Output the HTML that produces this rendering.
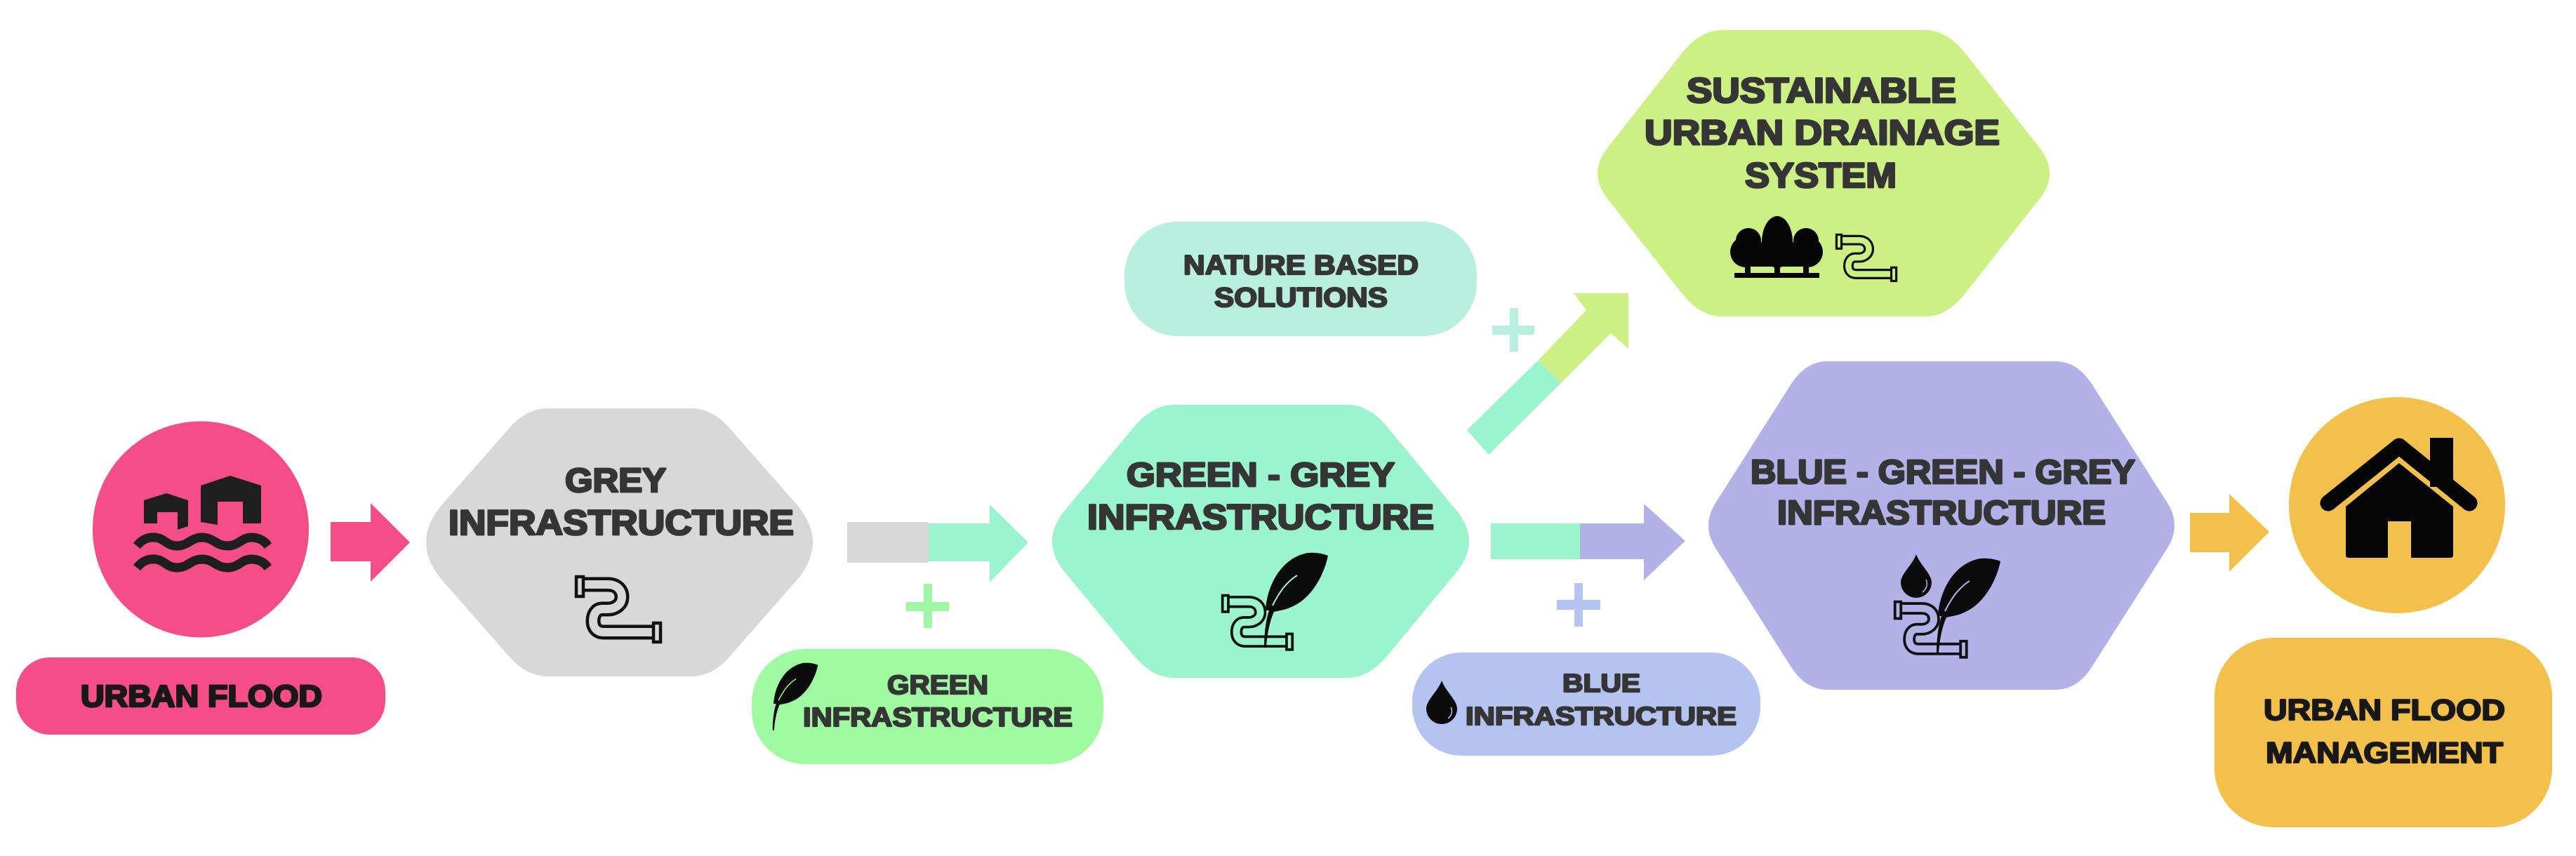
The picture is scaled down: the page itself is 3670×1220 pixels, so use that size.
<!DOCTYPE html>
<html lang="en">
<head>
<meta charset="utf-8">
<title>From grey infrastructure to urban flood management</title>
<style>
html,body{margin:0;padding:0;background:#fff;width:3670px;height:1220px;overflow:hidden}
svg{display:block}
text{font-family:"Liberation Sans",Arial,sans-serif;font-weight:700;fill:#353535;stroke:#353535;stroke-width:2.8;paint-order:stroke;stroke-linejoin:round}
.k{fill:#181818;stroke:#181818}
.s{stroke-width:2.2}
</style>
</head>
<body>
<svg xmlns="http://www.w3.org/2000/svg" width="3670" height="1220" viewBox="0 0 3670 1220">
<defs>
  <path id="pipeLine" fill="none" d="M12 13H47C60 13 67 21 67 31C67 41 58 48 47 48H39C31 48 26 55 26 65C26 75 32 81 41 81H112"/>
  <path id="leaf" d="M103 110C105 75 125 35 163 28C175 27 185 29 192 32C185 65 165 95 140 105C130 110 122 110 115 112C109 125 105 145 104 163L101 163C101 145 103 125 108 110Z"/>
  <path id="drop" d="M0 0C6 16 22 28 22 40A22 22 0 0 1 -22 40C-22 28 -6 16 0 0Z"/>
</defs>

<!-- Urban flood -->
<circle cx="286" cy="754.5" r="154" fill="#f54d87"/>
<g fill="#1e1e1e">
  <path d="M286 692L328 678L372 692V746H346V715H310V748L286 744Z"/>
  <path d="M205 713L237 703L268 713V750L253 755V730H224V746H205Z"/>
</g>
<g fill="none" stroke="#1e1e1e" stroke-width="13">
  <path d="M195 778C203 768 212 765 222 766C235 768 238 778 252 778C268 778 272 766 288 766C304 766 308 778 324 778C340 778 344 766 358 766C368 766 376 770 382 778"/>
  <path d="M195 809C203 799 212 796 222 797C235 799 238 809 252 809C268 809 272 797 288 797C304 797 308 809 324 809C340 809 344 797 358 797C368 797 376 801 382 809"/>
</g>
<rect x="23" y="937" width="526" height="110" rx="48" fill="#f54d87"/>
<text class="k" x="115" y="1007" font-size="44" textLength="344" lengthAdjust="spacingAndGlyphs">URBAN FLOOD</text>

<!-- pink arrow -->
<path d="M471 744H528V717L584 773L528 829V800H471Z" fill="#f54d87"/>

<!-- Grey hexagon -->
<path d="M780 582H985Q1016 582 1042 613L1135 719Q1181 773 1135 827L1042 933Q1016 964 985 964H780Q749 964 723 933L630 827Q584 773 630 719L723 613Q749 582 780 582Z" fill="#d8d8d8"/>
<text x="805" y="701" font-size="48" textLength="144" lengthAdjust="spacingAndGlyphs">GREY</text>
<text x="639" y="762" font-size="50" textLength="492" lengthAdjust="spacingAndGlyphs">INFRASTRUCTURE</text>
<g transform="translate(819,820)">
  <use href="#pipeLine" stroke="#111" stroke-width="21"/>
  <use href="#pipeLine" stroke="#d8d8d8" stroke-width="12"/>
  <rect x="2" y="2" width="10" height="28" fill="#d8d8d8" stroke="#111" stroke-width="4.5"/>
  <rect x="112" y="68" width="10" height="27" fill="#d8d8d8" stroke="#111" stroke-width="4.5"/>
</g>

<!-- grey -> mint arrow -->
<rect x="1207" y="744" width="116" height="58" fill="#d8d8d8"/>
<path d="M1323 746H1410V719L1465 773L1410 830V800H1323Z" fill="#9af5cc"/>
<path d="M1316 832H1328V858H1352V871H1328V895H1316V871H1291V858H1316Z" fill="#9ff7a6"/>

<!-- Green infrastructure pill -->
<rect x="1071" y="925" width="501" height="164" rx="76" fill="#9ffaa2"/>
<g transform="translate(1029,925) scale(.71)"><use href="#leaf" fill="#0b0b0b"/>
  <path d="M113 103C122 85 132 70 148 60" fill="none" stroke="#9ffaa2" stroke-width="2"/></g>
<text class="s" x="1264" y="989" font-size="38" textLength="144" lengthAdjust="spacingAndGlyphs">GREEN</text>
<text class="s" x="1144" y="1035" font-size="38" textLength="384" lengthAdjust="spacingAndGlyphs">INFRASTRUCTURE</text>

<!-- Green-grey hexagon -->
<path d="M1672 577H1920Q1950 577 1976 608L2072 724Q2114 771.5 2072 819L1976 935Q1950 966 1920 966H1672Q1642 966 1616 935L1520 819Q1478 771.5 1520 724L1616 608Q1642 577 1672 577Z" fill="#9af5cc"/>
<text x="1605" y="693" font-size="48" textLength="382" lengthAdjust="spacingAndGlyphs">GREEN - GREY</text>
<text x="1549" y="754" font-size="50" textLength="494" lengthAdjust="spacingAndGlyphs">INFRASTRUCTURE</text>
<g transform="translate(1740,847) scale(.83)">
  <use href="#pipeLine" stroke="#111" stroke-width="21"/>
  <use href="#pipeLine" stroke="#9af5cc" stroke-width="12"/>
  <rect x="2" y="2" width="10" height="28" fill="#9af5cc" stroke="#111" stroke-width="4.5"/>
  <rect x="112" y="68" width="10" height="27" fill="#9af5cc" stroke="#111" stroke-width="4.5"/>
</g>
<g transform="translate(1700,760)"><use href="#leaf" fill="#0b0b0b"/>
  <path d="M113 103C122 85 132 70 148 60" fill="none" stroke="#9af5cc" stroke-width="2"/></g>

<!-- Nature based solutions -->
<rect x="1602" y="316" width="502" height="163" rx="76" fill="#b9efdf"/>
<text class="s" x="1686" y="391" font-size="39" textLength="335" lengthAdjust="spacingAndGlyphs">NATURE BASED</text>
<text class="s" x="1730" y="437" font-size="39" textLength="247" lengthAdjust="spacingAndGlyphs">SOLUTIONS</text>
<path d="M2151 439H2163V464H2186V477H2163V501H2151V477H2126V464H2151Z" fill="#b9efdf"/>

<!-- diagonal arrow -->
<polygon points="2090,613 2121,648 2224,546 2191,514" fill="#9af5cc"/>
<polygon points="2191,514 2260,442 2242,418 2320,418 2320,497 2295,475 2224,546" fill="#cdf085"/>

<!-- SuDS hexagon -->
<path d="M2453 43H2743Q2774 43 2800 76L2906 211Q2934 247 2906 283L2800 418Q2774 451 2743 451H2453Q2422 451 2396 418L2290 283Q2262 247 2290 211L2396 76Q2422 43 2453 43Z" fill="#cdf085"/>
<text x="2403" y="146" font-size="50" textLength="384" lengthAdjust="spacingAndGlyphs">SUSTAINABLE</text>
<text x="2343" y="206" font-size="50" textLength="506" lengthAdjust="spacingAndGlyphs">URBAN DRAINAGE</text>
<text x="2486" y="267" font-size="50" textLength="216" lengthAdjust="spacingAndGlyphs">SYSTEM</text>
<g fill="#050505">
  <ellipse cx="2532" cy="345" rx="22" ry="37"/>
  <circle cx="2491" cy="343" r="18"/>
  <circle cx="2573" cy="343" r="18"/>
  <circle cx="2487" cy="359" r="22"/>
  <circle cx="2575" cy="359" r="22"/>
  <rect x="2487" y="345" width="88" height="35"/>
  <rect x="2486" y="375" width="8" height="16"/>
  <rect x="2528" y="375" width="8" height="16"/>
  <rect x="2569" y="375" width="8" height="16"/>
  <rect x="2471" y="389" width="121" height="7"/>
</g>
<g transform="translate(2615,333) scale(.71)">
  <use href="#pipeLine" stroke="#111" stroke-width="21"/>
  <use href="#pipeLine" stroke="#cdf085" stroke-width="12"/>
  <rect x="2" y="2" width="10" height="28" fill="#cdf085" stroke="#111" stroke-width="4.5"/>
  <rect x="112" y="68" width="10" height="27" fill="#cdf085" stroke="#111" stroke-width="4.5"/>
</g>

<!-- mint -> purple arrow -->
<rect x="2124" y="746" width="127" height="51" fill="#9af5cc"/>
<path d="M2251 746H2342V718L2401 771L2342 827V797H2251Z" fill="#b3b2e8"/>
<path d="M2243 831H2255V855H2280V869H2255V893H2243V869H2218V855H2243Z" fill="#b5c4f0"/>

<!-- Blue infrastructure pill -->
<rect x="2012" y="930" width="496" height="147" rx="70" fill="#b4c3ef"/>
<g transform="translate(2054,970)">
  <use href="#drop" fill="#0b0b0b"/>
  <path d="M13 38C16 44 14 50 9 54" fill="none" stroke="#b4c3ef" stroke-width="1.5"/>
</g>
<text class="s" x="2226" y="986" font-size="36" textLength="111" lengthAdjust="spacingAndGlyphs">BLUE</text>
<text class="s" x="2088" y="1033" font-size="36" textLength="386" lengthAdjust="spacingAndGlyphs">INFRASTRUCTURE</text>

<!-- Blue-green-grey hexagon -->
<path d="M2603 515H2929Q2959 515 2980 547L3088 717Q3108 749 3088 781L2980 951Q2959 983 2929 983H2603Q2573 983 2552 951L2444 781Q2424 749 2444 717L2552 547Q2573 515 2603 515Z" fill="#b3b2e8"/>
<text x="2494" y="689" font-size="48" textLength="548" lengthAdjust="spacingAndGlyphs">BLUE - GREEN - GREY</text>
<text x="2532" y="747" font-size="48" textLength="468" lengthAdjust="spacingAndGlyphs">INFRASTRUCTURE</text>
<g transform="translate(2698,856) scale(.85)">
  <use href="#pipeLine" stroke="#111" stroke-width="21"/>
  <use href="#pipeLine" stroke="#b3b2e8" stroke-width="12"/>
  <rect x="2" y="2" width="10" height="28" fill="#b3b2e8" stroke="#111" stroke-width="4.5"/>
  <rect x="112" y="68" width="10" height="27" fill="#b3b2e8" stroke="#111" stroke-width="4.5"/>
</g>
<g transform="translate(2658,768)"><use href="#leaf" fill="#0b0b0b"/>
  <path d="M113 103C122 85 132 70 148 60" fill="none" stroke="#b3b2e8" stroke-width="2"/></g>
<g transform="translate(2730,790)">
  <use href="#drop" fill="#0b0b0b"/>
  <path d="M14 36C17 44 14 50 9 54" fill="none" stroke="#b3b2e8" stroke-width="1.5"/>
</g>

<!-- yellow arrow -->
<path d="M3120 731H3176V704L3233 758L3176 815V787H3120Z" fill="#f3c14b"/>

<!-- House circle -->
<circle cx="3415" cy="720" r="154" fill="#f3c14b"/>
<rect x="3462" y="624" width="33" height="70" fill="#050505"/>
<path d="M3317 717L3418 636L3518 717" fill="none" stroke="#050505" stroke-width="23" stroke-linecap="round" stroke-linejoin="round"/>
<path d="M3342 722L3418 660L3495 722V791Q3495 795 3491 795H3435V743H3402V795H3346Q3342 795 3342 791Z" fill="#050505"/>

<!-- Management pill -->
<rect x="3155" y="909" width="481" height="270" rx="84" fill="#f3c14b"/>
<text class="k s" x="3225" y="1026" font-size="42" textLength="344" lengthAdjust="spacingAndGlyphs">URBAN FLOOD</text>
<text class="k s" x="3228" y="1087" font-size="42" textLength="338" lengthAdjust="spacingAndGlyphs">MANAGEMENT</text>
</svg>
</body>
</html>
